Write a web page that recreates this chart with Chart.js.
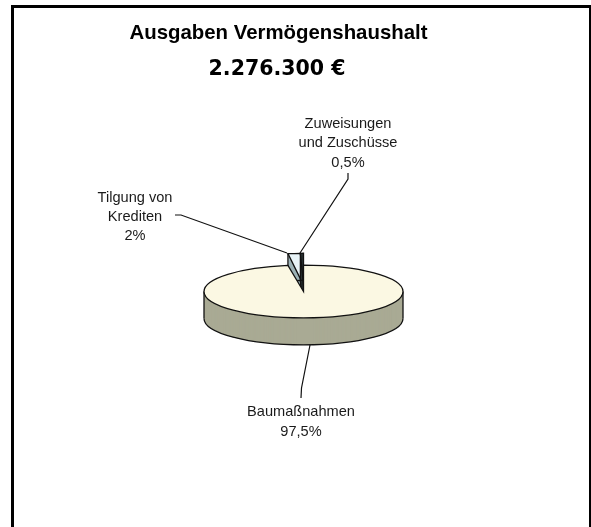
<!DOCTYPE html>
<html><head><meta charset="utf-8">
<style>html,body{margin:0;padding:0;background:#fff}canvas{display:block}#w{width:591px;height:527px;position:relative}</style>
<script src="https://cdn.jsdelivr.net/npm/chart.js@4"></script></head>
<body><div id="w"><canvas id="c" width="591" height="527"></canvas></div>
<script>
const titleText = "Ausgaben Vermögenshaushalt";
const totalText = "2.276.300 €";
const categories = ["Baumaßnahmen", "Tilgung von Krediten", "Zuweisungen und Zuschüsse"];
const shares = [97.5, 2, 0.5];
const shareLabels = ["97,5%", "2%", "0,5%"];
const topColors = ["#FBF8E3", "#E9F4F8", "#2A3233"];
const wallColors = ["#A9AA94", "#9DB3B6", "#2A3233"];
const explodeBy = [0, 20, 20];
const tilts = [0.266, 0.32, 0.32];

const depth = 27;
const labelLayout = [
  {x:301, y:[416,435.5], lines:[categories[0], shareLabels[0]], lead:[[310,345],[301.5,388],[301,398]]},
  {x:135, y:[202,221,240], lines:["Tilgung von","Krediten",shareLabels[1]], lead:[[175,215],[181,215],[287,253]]},
  {x:348, y:[127.5,147,166.5], lines:["Zuweisungen","und Zuschüsse",shareLabels[2]], lead:[[348,173],[348,179],[300,253]]}
];

const pie3d = {
  id:'pie3d',
  beforeDatasetsDraw(chart){
    const ctx = chart.ctx, arcs = chart.getDatasetMeta(0).data;
    const place = (el,i,dy)=>{
      ctx.translate(el.x, el.y+dy);
      ctx.scale(1,tilts[i]);
      ctx.translate(0,-explodeBy[i]);
      ctx.translate(-el.x,-el.y);
    };
    const fill = (el,i,dy,color)=>{
      const saved = el.options;
      el.options = Object.assign({}, saved, {backgroundColor:color, borderColor:color, borderWidth:0, offset:0});
      ctx.save(); place(el,i,dy); el.draw(ctx); ctx.restore();
      el.options = saved;
    };
    const outline = (el,i,dy,a0,a1,closed)=>{
      ctx.save(); place(el,i,dy);
      ctx.beginPath();
      if(closed) ctx.moveTo(el.x,el.y);
      ctx.arc(el.x,el.y,el.outerRadius,a0,a1);
      if(closed) ctx.closePath();
      ctx.restore();
      ctx.lineWidth=1.3; ctx.strokeStyle="#111"; ctx.stroke();
    };
    const body = (el,i)=>{
      for(let d=depth;d>0;d--) fill(el,i,d,wallColors[i]);
    };
    ctx.save();
    // exploded small slices sit behind the main slice
    [1,2].forEach(i=>{
      const el = arcs[i];
      body(el,i);
      outline(el,i,depth,el.startAngle,el.endAngle,true);
      const px=el.x+Math.cos(el.startAngle)*el.outerRadius;
      const py=el.y+(Math.sin(el.startAngle)*el.outerRadius-explodeBy[i])*tilts[i];
      ctx.beginPath();ctx.moveTo(px,py);ctx.lineTo(px,py+depth);ctx.strokeStyle="#111";ctx.lineWidth=1.3;ctx.stroke();
      fill(el,i,0,topColors[i]);
      outline(el,i,0,el.startAngle,el.endAngle,true);
    });
    const m = arcs[0];
    body(m,0);
    outline(m,0,depth,0,Math.PI,false);
    const lx=m.x-m.outerRadius, rx=m.x+m.outerRadius;
    ctx.beginPath();ctx.moveTo(lx,m.y);ctx.lineTo(lx,m.y+depth);ctx.moveTo(rx,m.y);ctx.lineTo(rx,m.y+depth);
    ctx.strokeStyle="#111";ctx.lineWidth=1.3;ctx.stroke();
    fill(m,0,0,topColors[0]);
    outline(m,0,0,m.startAngle,m.endAngle,true);
    ctx.restore();
    return false;
  },
  afterDraw(chart){
    const ctx = chart.ctx;
    ctx.save();
    // frame, open at the bottom
    ctx.fillStyle="#000";
    ctx.fillRect(11,5,580,3);
    ctx.fillRect(11,5,3,522);
    ctx.fillRect(589,5,2,522);
    ctx.textAlign="center"; ctx.textBaseline="alphabetic";
    ctx.fillStyle="#000";
    ctx.font="bold 20.4px 'Liberation Sans'";
    ctx.fillText(titleText,278.5,39);
    ctx.font="bold 20.5px 'DejaVu Sans'";
    ctx.fillText(totalText,277,75);
    ctx.font="14.6px 'Liberation Sans'";
    ctx.fillStyle="#1a1a1a";
    labelLayout.forEach(l=>{
      l.lines.forEach((t,i)=>ctx.fillText(t,l.x,l.y[i]));
      ctx.beginPath();
      l.lead.forEach((p,i)=>i?ctx.lineTo(p[0],p[1]):ctx.moveTo(p[0],p[1]));
      ctx.strokeStyle="#111";ctx.lineWidth=1.2;ctx.stroke();
    });
    ctx.restore();
  }
};

new Chart(document.getElementById('c'),{
  type:'pie',
  data:{labels:categories,datasets:[{data:shares,backgroundColor:topColors,borderWidth:0}]},
  options:{
    responsive:false,animation:false,radius:99.5,
    layout:{padding:{left:16,top:56,right:0,bottom:0}},
    plugins:{legend:{display:false},tooltip:{enabled:false},title:{display:false}}
  },
  plugins:[pie3d]
});
</script></body></html>
